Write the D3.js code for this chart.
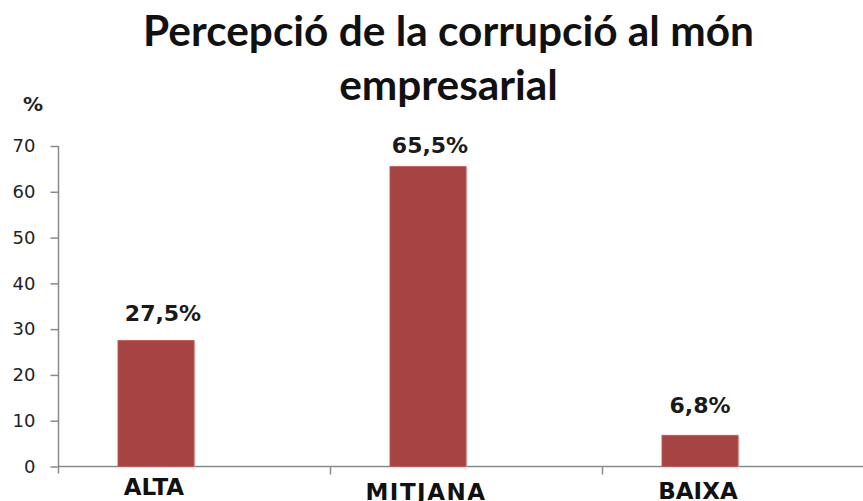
<!DOCTYPE html>
<html>
<head>
<meta charset="utf-8">
<script src="https://cdn.jsdelivr.net/npm/d3@7"></script>
<style>
  html, body { margin: 0; padding: 0; background: #fff; }
  svg { display: block; }
</style>
</head>
<body>
<svg id="chart" width="863" height="501"></svg>
<script>
const categories = ["ALTA", "MITJANA", "BAIXA"];
const values = [27.5, 65.5, 6.8];
const valueLabels = ["27,5%", "65,5%", "6,8%"];
const yTicks = [0, 10, 20, 30, 40, 50, 60, 70];
const titleLines = ["Percepció de la corrupció al món", "empresarial"];
const yUnit = "%";

const W = 863, H = 501;
const svg = d3.select("#chart");

const x0 = 58.5, step = 272;
const x = d3.scaleBand().domain(categories).range([x0, x0 + step * categories.length]).padding(0);
const y = d3.scaleLinear().domain([0, 70]).range([466.5, 146]);

const barOffset = 59.5, barW = 76;

// title
const title = svg.append("g").attr("font-family", "Lato, 'Open Sans', sans-serif").attr("font-weight", "bold").attr("fill", "#111");
const t1 = title.append("text").attr("x", 448.5).attr("y", 46).attr("text-anchor", "middle").attr("font-size", 40).text(titleLines[0]);
const w1 = t1.node().getComputedTextLength();
const fs = 40 * 611 / w1;
t1.attr("font-size", fs);
title.append("text").attr("x", 448.5).attr("y", 100).attr("text-anchor", "middle").attr("font-size", fs).text(titleLines[1]);

// y unit
svg.append("text").attr("x", 33).attr("y", 111).attr("text-anchor", "middle")
  .attr("font-family", "'DejaVu Sans', Verdana, sans-serif").attr("font-weight", "bold")
  .attr("font-size", 20).attr("fill", "#222").text(yUnit);

// y axis
const yAxis = svg.append("g").attr("transform", `translate(${x0},0)`)
  .call(d3.axisLeft(y).tickValues(yTicks).tickSize(8).tickSizeOuter(0).tickPadding(15));
yAxis.select(".domain").attr("stroke", "#8a8a8a").attr("stroke-width", 1.5)
  .attr("d", `M0,${y(70)}V${y(0) + 7}`);
yAxis.selectAll(".tick line").attr("stroke", "#8a8a8a").attr("stroke-width", 1.5);
yAxis.selectAll(".tick text").attr("font-family", "'DejaVu Sans', Verdana, sans-serif")
  .attr("font-size", 18).attr("fill", "#222");

// x axis line and boundary ticks
const xAxisG = svg.append("g");
xAxisG.append("line").attr("x1", x0).attr("x2", W).attr("y1", y(0)).attr("y2", y(0))
  .attr("stroke", "#8a8a8a").attr("stroke-width", 1.5);
xAxisG.selectAll("line.bt").data(categories.slice(1)).join("line").attr("class", "bt")
  .attr("x1", d => x(d)).attr("x2", d => x(d)).attr("y1", y(0)).attr("y2", y(0) + 8)
  .attr("stroke", "#8a8a8a").attr("stroke-width", 1.5);

// bars: soft shadow then bar
const bars = svg.append("g");
bars.selectAll("rect.sh").data(categories).join("rect").attr("class", "sh")
  .attr("x", d => x(d) + barOffset + 1.5).attr("y", (d, i) => y(values[i]) + 1)
  .attr("width", barW).attr("height", (d, i) => y(0) - y(values[i]) - 1)
  .attr("fill", "#d9d9d9");
bars.selectAll("rect.bar").data(categories).join("rect").attr("class", "bar")
  .attr("x", d => x(d) + barOffset).attr("y", (d, i) => y(values[i]))
  .attr("width", barW).attr("height", (d, i) => y(0) - y(values[i]))
  .attr("fill", "#a54443").attr("stroke", "#c05a58").attr("stroke-width", 1);

// value labels
const labelGap = [20, 14, 22];
const labelShift = [7, 2, 0];
svg.append("g").selectAll("text").data(categories).join("text")
  .attr("x", (d, i) => x(d) + barOffset + barW / 2 + labelShift[i])
  .attr("y", (d, i) => y(values[i]) - labelGap[i])
  .attr("text-anchor", "middle")
  .attr("font-family", "'DejaVu Sans', Verdana, sans-serif").attr("font-weight", "bold")
  .attr("font-size", 22).attr("fill", "#1a1a1a")
  .text((d, i) => valueLabels[i]);

// category labels
const catDy = [495, 499.5, 498.5];
const catLS = [0, 1.5, 0];
svg.append("g").selectAll("text").data(categories).join("text")
  .attr("x", d => x(d) + barOffset + barW / 2 - 2)
  .attr("y", (d, i) => catDy[i])
  .attr("text-anchor", "middle")
  .attr("letter-spacing", (d, i) => catLS[i])
  .attr("font-family", "'DejaVu Sans', Verdana, sans-serif").attr("font-weight", "bold")
  .attr("font-size", 23).attr("fill", "#111")
  .text(d => d);
</script>
</body>
</html>
